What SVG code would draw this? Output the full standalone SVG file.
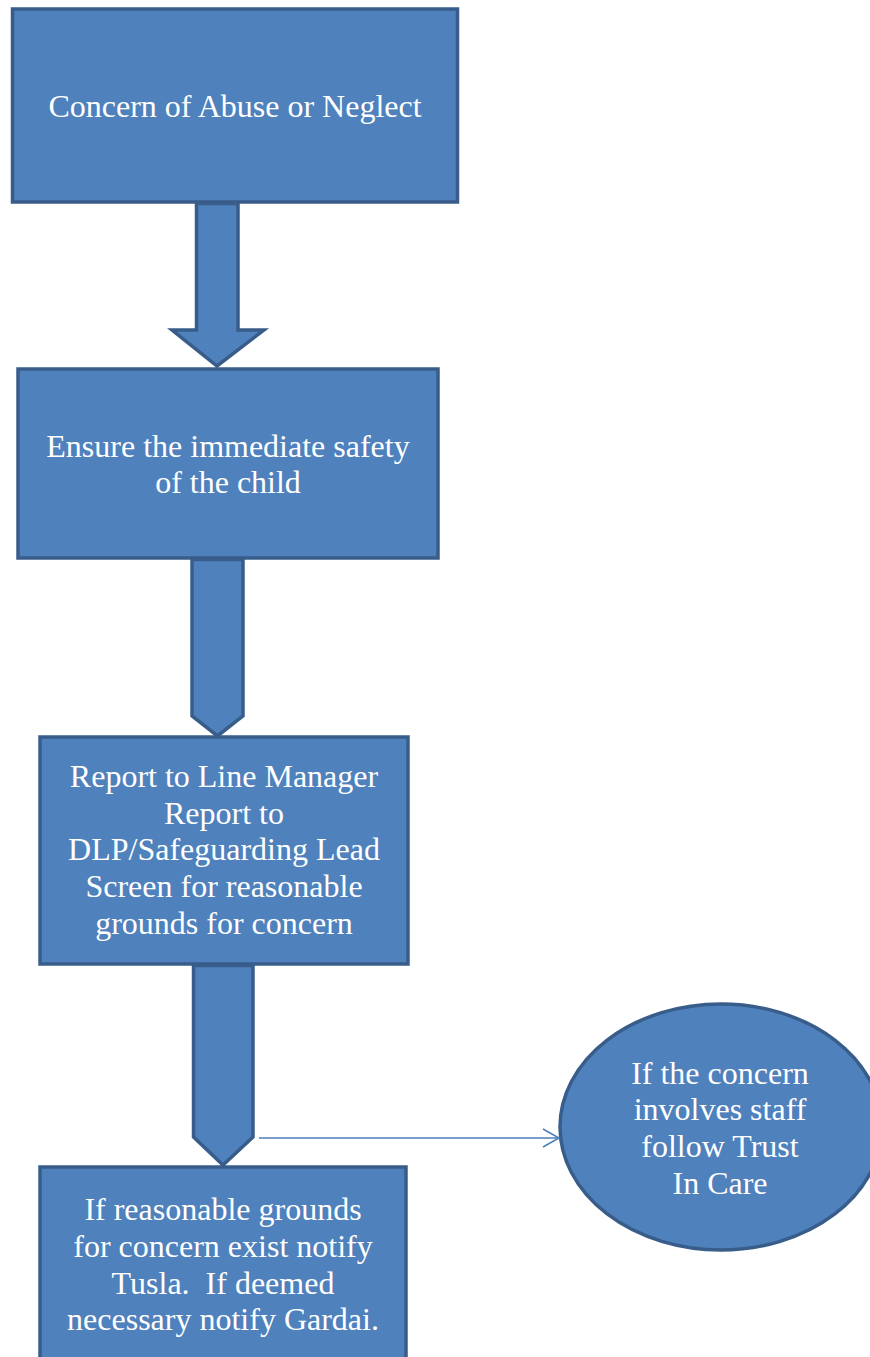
<svg xmlns="http://www.w3.org/2000/svg" width="870" height="1357" viewBox="0 0 870 1357">
<style>
.box{fill:#4F81BD;stroke:#385D8A;stroke-width:3.5;}
.arr{fill:#4F81BD;stroke:#385D8A;stroke-width:3.5;stroke-linejoin:miter;}
.t{font-family:"Liberation Serif","Times New Roman",serif;font-size:32px;fill:#FFFFFF;text-anchor:middle;}
.conn{fill:none;stroke:#4A7EBB;stroke-width:1.5;}
</style>
<defs>
<marker id="open" viewBox="0 0 20 20" refX="17" refY="10" markerWidth="20" markerHeight="20" markerUnits="userSpaceOnUse" orient="auto">
<path d="M1,1 L17,10 L1,19" fill="none" stroke="#4A7EBB" stroke-width="1.5"/>
</marker>
</defs>
<rect width="870" height="1357" fill="#FFFFFF"/>
<g id="node1">
<rect class="box" x="12.5" y="9" width="445" height="193"/>
<text class="t" x="235" y="117">Concern of Abuse or Neglect</text>
</g>
<g id="node2">
<rect class="box" x="18" y="369" width="420" height="189"/>
<text class="t" x="228" y="457">Ensure the immediate safety</text>
<text class="t" x="228" y="493">of the child</text>
</g>
<g id="node3">
<rect class="box" x="40" y="737" width="368" height="227"/>
<text class="t" x="224" y="787">Report to Line Manager</text>
<text class="t" x="224" y="824">Report to</text>
<text class="t" x="224" y="860">DLP/Safeguarding Lead</text>
<text class="t" x="224" y="897">Screen for reasonable</text>
<text class="t" x="224" y="934">grounds for concern</text>
</g>
<g id="node4">
<rect class="box" x="40" y="1167" width="366" height="210"/>
<text class="t" x="223" y="1220">If reasonable grounds</text>
<text class="t" x="223" y="1257">for concern exist notify</text>
<text class="t" x="223" y="1294" xml:space="preserve">Tusla.  If deemed</text>
<text class="t" x="223" y="1330">necessary notify Gardai.</text>
</g>
<g id="node5">
<ellipse class="box" cx="721" cy="1127" rx="161" ry="123"/>
<text class="t" x="720" y="1084">If the concern</text>
<text class="t" x="720" y="1120">involves staff</text>
<text class="t" x="720" y="1157">follow Trust</text>
<text class="t" x="720" y="1194">In Care</text>
</g>
<g id="connectors">
<polygon class="arr" points="196.5,203.5 238,203.5 238,330 264,330 217,366 172,330 196.5,330"/>
<polygon class="arr" points="192,559.5 243,559.5 243,716 217.5,736 192,716"/>
<polygon class="arr" points="193.5,965.5 253,965.5 253,1137 223,1165 193.5,1137"/>
<line class="conn" x1="259" y1="1138" x2="559" y2="1138" marker-end="url(#open)"/>
</g>
</svg>
